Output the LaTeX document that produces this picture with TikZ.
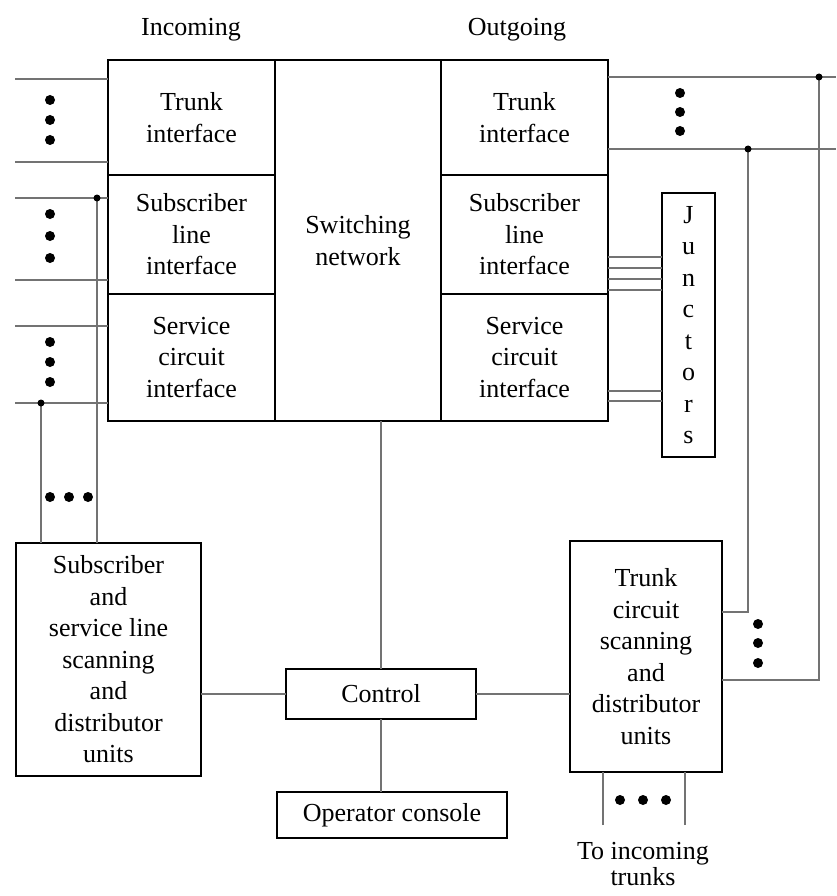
\documentclass[tikz,border=0pt]{standalone}
\usepackage{fontspec}
\setmainfont{Liberation Serif}
\usetikzlibrary{positioning}

\begin{document}
\begin{tikzpicture}[x=1pt,y=-1pt,
    box/.style={draw,line width=2.6pt,align=center,inner sep=0pt,outer sep=0pt,
      font=\fontsize{26}{31.5}\selectfont},
    cell/.style={box,minimum width=167pt},
    wire/.style={line width=1.8pt,draw=black!55},
    lbl/.style={align=center,font=\fontsize{26}{31.5}\selectfont}]
  \useasboundingbox (0,0) rectangle (836,896);

  \node[lbl] (inc)  at (191,30) {Incoming};
  \node[lbl] (outg) at (517,30) {Outgoing};

  \node[cell,minimum height=115pt] (inTrunk) at (191.5,117.5) {Trunk\\interface};
  \node[cell,minimum height=119pt] (inSub)  [below=0pt of inTrunk] {Subscriber\\line\\interface};
  \node[cell,minimum height=127pt] (inServ) [below=0pt of inSub]   {Service\\circuit\\interface};
  \node[box,minimum width=166pt,minimum height=361pt,anchor=north west] (swnet)
        at (inTrunk.north east) {Switching\\network};
  \node[cell,minimum height=115pt,anchor=north west] (outTrunk) at (swnet.north east) {Trunk\\interface};
  \node[cell,minimum height=119pt] (outSub)  [below=0pt of outTrunk] {Subscriber\\line\\interface};
  \node[cell,minimum height=127pt] (outServ) [below=0pt of outSub]   {Service\\circuit\\interface};
  \node[box,minimum width=53pt,minimum height=264pt] (junc) at (688.5,325) {J\\u\\n\\c\\t\\o\\r\\s};

  \node[box,minimum width=185pt,minimum height=233pt] (subScan) at (108.5,659.5)
        {Subscriber\\and\\service line\\scanning\\and\\distributor\\units};
  \node[box,minimum width=190pt,minimum height=50pt] (ctrl) at (381,694) {Control};
  \node[box,minimum width=230pt,minimum height=46pt] (opc)  at (392,815) {Operator console};
  \node[box,minimum width=152pt,minimum height=231pt] (trkScan) at (646,656.5)
        {Trunk\\circuit\\scanning\\and\\distributor\\units};
  \node[lbl,font=\fontsize{26}{26}\selectfont] (toinc) at (643,864) {To incoming\\trunks};

  % incoming lines
  \foreach \y in {79,162,198,280,326,403} {
    \coordinate (w) at (15,\y);
    \draw[wire] (w) -- (w -| inTrunk.west);
  }
  \coordinate (la) at (97,198);
  \coordinate (lb) at (41,403);
  \draw[wire] (la) -- (la |- subScan.north);
  \draw[wire] (lb) -- (lb |- subScan.north);
  \fill (la) circle (3.5pt);
  \fill (lb) circle (3.5pt);

  % junctors
  \foreach \y in {257,268,279,290,391,401} {
    \coordinate (j) at (0,\y);
    \draw[wire] (j -| outSub.east) -- (j -| junc.west);
  }

  % outgoing trunks
  \coordinate (ra) at (819,77);
  \coordinate (rb) at (748,149);
  \coordinate (rc) at (819,680);
  \coordinate (rd) at (748,612);
  \coordinate (re) at (836,77);
  \coordinate (rf) at (836,149);
  \draw[wire] (ra -| outTrunk.east) -- (re);
  \draw[wire] (rb -| outTrunk.east) -- (rf);
  \draw[wire] (ra) -- (rc) -- (rc -| trkScan.east);
  \draw[wire] (rb) -- (rd) -- (rd -| trkScan.east);
  \fill (ra) circle (3.5pt);
  \fill (rb) circle (3.5pt);

  % control
  \draw[wire] (ctrl.north) -- (ctrl.north |- swnet.south);
  \draw[wire] (ctrl.south) -- (ctrl.south |- opc.north);
  \draw[wire] (ctrl.west) -- (ctrl.west -| subScan.east);
  \draw[wire] (ctrl.east) -- (ctrl.east -| trkScan.west);

  \coordinate (ba) at (603,825);
  \coordinate (bb) at (685,825);
  \draw[wire] (ba) -- (ba |- trkScan.south);
  \draw[wire] (bb) -- (bb |- trkScan.south);

  % dots
  \foreach \y in {100,120,140,214,236,258,342,362,382} \fill (50,\y) circle (5pt);
  \foreach \x in {50,69,88} \fill (\x,497) circle (5pt);
  \foreach \y in {93,112,131} \fill (680,\y) circle (5pt);
  \foreach \y in {624,643,663} \fill (758,\y) circle (5pt);
  \foreach \x in {620,643,666} \fill (\x,800) circle (5pt);
\end{tikzpicture}
\end{document}
